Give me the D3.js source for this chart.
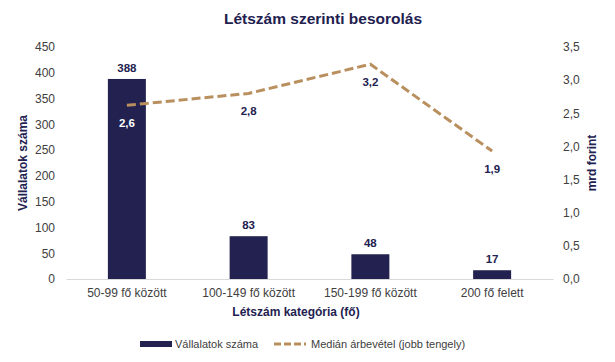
<!DOCTYPE html>
<html>
<head>
<meta charset="utf-8">
<script src="https://cdn.jsdelivr.net/npm/d3@7"></script>
<style>
  body { margin: 0; background: #fff; }
  text { font-family: "Liberation Sans", Arial, sans-serif; }
</style>
</head>
<body>
<div id="chart"></div>
<script>
// data
var categories = ["50-99 fő között", "100-149 fő között", "150-199 fő között", "200 fő felett"]
var companyCounts = [388, 83, 48, 17]
var medianRevenue = [2.62, 2.8, 3.24, 1.93]
var leftTicks = [0, 50, 100, 150, 200, 250, 300, 350, 400, 450]
var rightTicks = [0, 0.5, 1, 1.5, 2, 2.5, 3, 3.5]

var svgWidth = 615
var svgHeight = 362
var margin = { top: 47, right: 62, bottom: 83, left: 66 }
var chartWidth = svgWidth - margin.left - margin.right
var chartHeight = svgHeight - margin.top - margin.bottom

var barColor = "#22214f"
var lineColor = "#b98f5e"
var textColor = "#404040"
var titleColor = "#22214f"

var svg = d3.select("#chart").append("svg")
  .attr("width", svgWidth)
  .attr("height", svgHeight)

var g = svg.append("g")
  .attr("transform", `translate(${margin.left}, ${margin.top})`)

var x = d3.scaleBand().domain(categories).range([0, chartWidth]).padding(0)
var yLeft = d3.scaleLinear().domain([0, 450]).range([chartHeight, 0])
var yRight = d3.scaleLinear().domain([0, 3.5]).range([chartHeight, 0])
var comma = v => d3.format(".1f")(v).replace(".", ",")

// title
svg.append("text")
  .attr("x", 323).attr("y", 24)
  .attr("text-anchor", "middle")
  .attr("font-size", 15.5).attr("font-weight", "bold")
  .attr("fill", titleColor)
  .text("Létszám szerinti besorolás")

// left axis
var leftAxis = g.append("g")
  .call(d3.axisLeft(yLeft).tickValues(leftTicks).tickSize(0).tickPadding(11))
leftAxis.select(".domain").remove()
leftAxis.selectAll("text").attr("font-size", 12).attr("fill", textColor)
  .style("font-family", "'Liberation Sans', Arial, sans-serif")

// right axis
var rightAxis = g.append("g")
  .attr("transform", `translate(${chartWidth}, 0)`)
  .call(d3.axisRight(yRight).tickValues(rightTicks).tickFormat(comma).tickSize(0).tickPadding(10))
rightAxis.select(".domain").remove()
rightAxis.selectAll("text").attr("font-size", 12).attr("fill", textColor)
  .style("font-family", "'Liberation Sans', Arial, sans-serif")

// bottom axis
var bottomAxis = g.append("g")
  .attr("transform", `translate(0, ${chartHeight})`)
  .call(d3.axisBottom(x).tickSize(0).tickPadding(9))
bottomAxis.select(".domain").attr("stroke", "#d9d9d9")
bottomAxis.selectAll("text").attr("font-size", 12).attr("fill", textColor)
  .style("font-family", "'Liberation Sans', Arial, sans-serif")

// axis titles
svg.append("text")
  .attr("transform", "translate(27, 163) rotate(-90)")
  .attr("text-anchor", "middle")
  .attr("font-size", 12).attr("font-weight", "bold").attr("fill", titleColor)
  .text("Vállalatok száma")

svg.append("text")
  .attr("transform", "translate(596, 163) rotate(-90)")
  .attr("text-anchor", "middle")
  .attr("font-size", 12).attr("font-weight", "bold").attr("fill", titleColor)
  .text("mrd forint")

svg.append("text")
  .attr("x", 296).attr("y", 316)
  .attr("text-anchor", "middle")
  .attr("font-size", 12).attr("font-weight", "bold").attr("fill", titleColor)
  .text("Létszám kategória (fő)")

// bars
var barWidth = 38
g.selectAll(".bar")
  .data(categories)
  .enter().append("rect")
  .attr("class", "bar")
  .attr("x", (d) => x(d) + x.bandwidth() / 2 - barWidth / 2)
  .attr("y", (d, i) => yLeft(companyCounts[i]))
  .attr("width", barWidth)
  .attr("height", (d, i) => chartHeight - yLeft(companyCounts[i]))
  .attr("fill", barColor)

g.selectAll(".barLabel")
  .data(categories)
  .enter().append("text")
  .attr("class", "barLabel")
  .attr("x", (d) => x(d) + x.bandwidth() / 2)
  .attr("y", (d, i) => yLeft(companyCounts[i]) - 7)
  .attr("text-anchor", "middle")
  .attr("font-size", 11.5).attr("font-weight", "bold").attr("fill", titleColor)
  .text((d, i) => companyCounts[i])

// line
var line = d3.line()
  .x((d, i) => x(categories[i]) + x.bandwidth() / 2)
  .y((d) => yRight(d))

g.append("path")
  .datum(medianRevenue)
  .attr("d", line)
  .attr("fill", "none")
  .attr("stroke", lineColor)
  .attr("stroke-width", 3)
  .attr("stroke-dasharray", "9,4")

g.selectAll(".lineLabel")
  .data(medianRevenue)
  .enter().append("text")
  .attr("class", "lineLabel")
  .attr("x", (d, i) => x(categories[i]) + x.bandwidth() / 2)
  .attr("y", (d) => yRight(d) + 22)
  .attr("text-anchor", "middle")
  .attr("font-size", 11.5).attr("font-weight", "bold")
  .attr("fill", (d, i) => i == 0 ? "#ffffff" : titleColor)
  .text((d) => comma(d))

// legend
var legend = svg.append("g").attr("transform", "translate(0, 344)")
legend.append("rect")
  .attr("x", 140).attr("y", -3).attr("width", 32).attr("height", 6)
  .attr("fill", barColor)
legend.append("text")
  .attr("x", 175).attr("y", 4)
  .attr("font-size", 11).attr("fill", textColor)
  .text("Vállalatok száma")
legend.append("line")
  .attr("x1", 274).attr("x2", 306).attr("y1", 0).attr("y2", 0)
  .attr("stroke", lineColor).attr("stroke-width", 3)
  .attr("stroke-dasharray", "7,3")
legend.append("text")
  .attr("x", 311).attr("y", 4)
  .attr("font-size", 11).attr("fill", textColor)
  .text("Medián árbevétel (jobb tengely)")
</script>
</body>
</html>
